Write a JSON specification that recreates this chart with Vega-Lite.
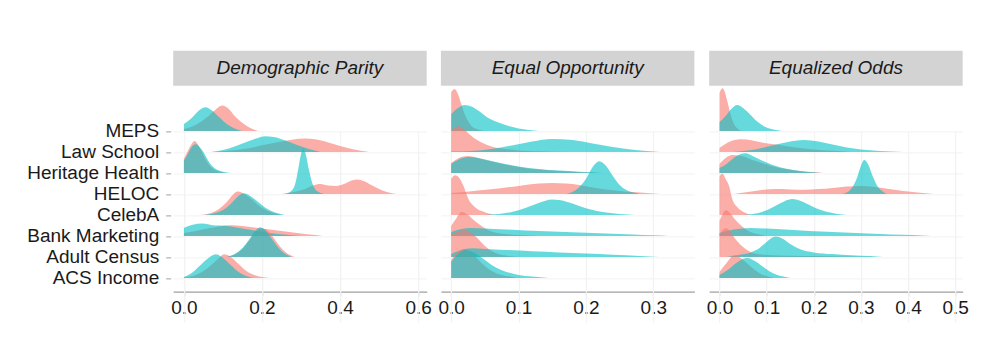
{
 "$schema": "https://vega.github.io/schema/vega-lite/v6.json",
 "padding": {"top": 50.7, "left": 25.7, "right": 5, "bottom": 5},
 "background": "white",
 "config": {"font": "Liberation Sans", "view": {"stroke": null}},
 "datasets": {
  "names": [{"d":"MEPS"},{"d":"Law School"},{"d":"Heritage Health"},{"d":"HELOC"},{"d":"CelebA"},{"d":"Bank Marketing"},{"d":"Adult Census"},{"d":"ACS Income"}],
  "dp": [
   {"d":"MEPS","g":"a","x":0,"h":2},{"d":"MEPS","g":"a","x":0.03,"h":6},{"d":"MEPS","g":"a","x":0.06,"h":14},{"d":"MEPS","g":"a","x":0.08,"h":21},{"d":"MEPS","g":"a","x":0.098,"h":25.3},{"d":"MEPS","g":"a","x":0.115,"h":22},{"d":"MEPS","g":"a","x":0.13,"h":15},{"d":"MEPS","g":"a","x":0.15,"h":8},{"d":"MEPS","g":"a","x":0.17,"h":3},{"d":"MEPS","g":"a","x":0.19,"h":0},
   {"d":"MEPS","g":"b","x":0,"h":7},{"d":"MEPS","g":"b","x":0.02,"h":13},{"d":"MEPS","g":"b","x":0.04,"h":21},{"d":"MEPS","g":"b","x":0.056,"h":23.7},{"d":"MEPS","g":"b","x":0.07,"h":21},{"d":"MEPS","g":"b","x":0.09,"h":14},{"d":"MEPS","g":"b","x":0.11,"h":7},{"d":"MEPS","g":"b","x":0.13,"h":2.5},{"d":"MEPS","g":"b","x":0.15,"h":0},
   {"d":"Law School","g":"a","x":0.07,"h":0},{"d":"Law School","g":"a","x":0.12,"h":1.5},{"d":"Law School","g":"a","x":0.17,"h":4},{"d":"Law School","g":"a","x":0.21,"h":7.5},{"d":"Law School","g":"a","x":0.25,"h":10.5},{"d":"Law School","g":"a","x":0.28,"h":12.5},{"d":"Law School","g":"a","x":0.308,"h":13.3},{"d":"Law School","g":"a","x":0.34,"h":12.3},{"d":"Law School","g":"a","x":0.37,"h":9.5},{"d":"Law School","g":"a","x":0.4,"h":6},{"d":"Law School","g":"a","x":0.43,"h":3},{"d":"Law School","g":"a","x":0.475,"h":0},
   {"d":"Law School","g":"b","x":0.07,"h":0},{"d":"Law School","g":"b","x":0.1,"h":2},{"d":"Law School","g":"b","x":0.13,"h":5.5},{"d":"Law School","g":"b","x":0.16,"h":10},{"d":"Law School","g":"b","x":0.19,"h":14},{"d":"Law School","g":"b","x":0.208,"h":15.6},{"d":"Law School","g":"b","x":0.23,"h":15},{"d":"Law School","g":"b","x":0.26,"h":11.5},{"d":"Law School","g":"b","x":0.29,"h":7},{"d":"Law School","g":"b","x":0.32,"h":3},{"d":"Law School","g":"b","x":0.35,"h":0},
   {"d":"Heritage Health","g":"a","x":0,"h":14},{"d":"Heritage Health","g":"a","x":0.01,"h":22},{"d":"Heritage Health","g":"a","x":0.02,"h":29},{"d":"Heritage Health","g":"a","x":0.027,"h":31.9},{"d":"Heritage Health","g":"a","x":0.035,"h":29},{"d":"Heritage Health","g":"a","x":0.045,"h":22},{"d":"Heritage Health","g":"a","x":0.055,"h":14},{"d":"Heritage Health","g":"a","x":0.065,"h":8},{"d":"Heritage Health","g":"a","x":0.075,"h":4},{"d":"Heritage Health","g":"a","x":0.09,"h":1.5},{"d":"Heritage Health","g":"a","x":0.11,"h":0},
   {"d":"Heritage Health","g":"b","x":0,"h":12},{"d":"Heritage Health","g":"b","x":0.01,"h":19},{"d":"Heritage Health","g":"b","x":0.02,"h":26},{"d":"Heritage Health","g":"b","x":0.03,"h":28.6},{"d":"Heritage Health","g":"b","x":0.04,"h":26},{"d":"Heritage Health","g":"b","x":0.05,"h":21},{"d":"Heritage Health","g":"b","x":0.06,"h":14},{"d":"Heritage Health","g":"b","x":0.07,"h":8},{"d":"Heritage Health","g":"b","x":0.08,"h":4.5},{"d":"Heritage Health","g":"b","x":0.09,"h":2.5},{"d":"Heritage Health","g":"b","x":0.1,"h":1.2},{"d":"Heritage Health","g":"b","x":0.12,"h":0},
   {"d":"HELOC","g":"a","x":0.25,"h":0},{"d":"HELOC","g":"a","x":0.28,"h":2},{"d":"HELOC","g":"a","x":0.31,"h":5},{"d":"HELOC","g":"a","x":0.33,"h":8.5},{"d":"HELOC","g":"a","x":0.35,"h":10},{"d":"HELOC","g":"a","x":0.37,"h":8.5},{"d":"HELOC","g":"a","x":0.39,"h":8},{"d":"HELOC","g":"a","x":0.41,"h":10},{"d":"HELOC","g":"a","x":0.43,"h":13.5},{"d":"HELOC","g":"a","x":0.445,"h":14.3},{"d":"HELOC","g":"a","x":0.46,"h":13},{"d":"HELOC","g":"a","x":0.48,"h":9},{"d":"HELOC","g":"a","x":0.5,"h":5},{"d":"HELOC","g":"a","x":0.52,"h":2},{"d":"HELOC","g":"a","x":0.545,"h":0},
   {"d":"HELOC","g":"b","x":0.26,"h":0},{"d":"HELOC","g":"b","x":0.275,"h":3},{"d":"HELOC","g":"b","x":0.285,"h":10},{"d":"HELOC","g":"b","x":0.293,"h":25},{"d":"HELOC","g":"b","x":0.3,"h":40},{"d":"HELOC","g":"b","x":0.305,"h":45},{"d":"HELOC","g":"b","x":0.312,"h":40},{"d":"HELOC","g":"b","x":0.32,"h":25},{"d":"HELOC","g":"b","x":0.328,"h":12},{"d":"HELOC","g":"b","x":0.336,"h":5},{"d":"HELOC","g":"b","x":0.345,"h":2},{"d":"HELOC","g":"b","x":0.36,"h":0},
   {"d":"CelebA","g":"a","x":0.04,"h":0},{"d":"CelebA","g":"a","x":0.07,"h":2},{"d":"CelebA","g":"a","x":0.09,"h":6},{"d":"CelebA","g":"a","x":0.11,"h":13},{"d":"CelebA","g":"a","x":0.125,"h":20},{"d":"CelebA","g":"a","x":0.138,"h":23.3},{"d":"CelebA","g":"a","x":0.15,"h":22},{"d":"CelebA","g":"a","x":0.17,"h":17},{"d":"CelebA","g":"a","x":0.19,"h":10},{"d":"CelebA","g":"a","x":0.21,"h":5},{"d":"CelebA","g":"a","x":0.23,"h":2},{"d":"CelebA","g":"a","x":0.25,"h":0},
   {"d":"CelebA","g":"b","x":0.05,"h":0},{"d":"CelebA","g":"b","x":0.08,"h":2},{"d":"CelebA","g":"b","x":0.1,"h":5},{"d":"CelebA","g":"b","x":0.12,"h":11},{"d":"CelebA","g":"b","x":0.14,"h":19},{"d":"CelebA","g":"b","x":0.153,"h":21.6},{"d":"CelebA","g":"b","x":0.17,"h":19},{"d":"CelebA","g":"b","x":0.19,"h":13},{"d":"CelebA","g":"b","x":0.21,"h":7},{"d":"CelebA","g":"b","x":0.23,"h":3},{"d":"CelebA","g":"b","x":0.26,"h":0},
   {"d":"Bank Marketing","g":"a","x":0,"h":3},{"d":"Bank Marketing","g":"a","x":0.03,"h":5},{"d":"Bank Marketing","g":"a","x":0.06,"h":7.5},{"d":"Bank Marketing","g":"a","x":0.09,"h":9.5},{"d":"Bank Marketing","g":"a","x":0.12,"h":10.6},{"d":"Bank Marketing","g":"a","x":0.15,"h":10},{"d":"Bank Marketing","g":"a","x":0.18,"h":8.5},{"d":"Bank Marketing","g":"a","x":0.21,"h":7},{"d":"Bank Marketing","g":"a","x":0.24,"h":5.5},{"d":"Bank Marketing","g":"a","x":0.27,"h":4},{"d":"Bank Marketing","g":"a","x":0.3,"h":2.5},{"d":"Bank Marketing","g":"a","x":0.33,"h":1.2},{"d":"Bank Marketing","g":"a","x":0.355,"h":0},
   {"d":"Bank Marketing","g":"b","x":0,"h":8},{"d":"Bank Marketing","g":"b","x":0.02,"h":11},{"d":"Bank Marketing","g":"b","x":0.048,"h":12.3},{"d":"Bank Marketing","g":"b","x":0.07,"h":11},{"d":"Bank Marketing","g":"b","x":0.09,"h":10.3},{"d":"Bank Marketing","g":"b","x":0.12,"h":9.5},{"d":"Bank Marketing","g":"b","x":0.15,"h":7.5},{"d":"Bank Marketing","g":"b","x":0.18,"h":5.5},{"d":"Bank Marketing","g":"b","x":0.21,"h":3.5},{"d":"Bank Marketing","g":"b","x":0.24,"h":2},{"d":"Bank Marketing","g":"b","x":0.27,"h":1},{"d":"Bank Marketing","g":"b","x":0.3,"h":0},
   {"d":"Adult Census","g":"a","x":0.11,"h":0},{"d":"Adult Census","g":"a","x":0.13,"h":2.5},{"d":"Adult Census","g":"a","x":0.15,"h":8},{"d":"Adult Census","g":"a","x":0.17,"h":18},{"d":"Adult Census","g":"a","x":0.185,"h":25},{"d":"Adult Census","g":"a","x":0.2,"h":28.5},{"d":"Adult Census","g":"a","x":0.215,"h":26},{"d":"Adult Census","g":"a","x":0.23,"h":19},{"d":"Adult Census","g":"a","x":0.245,"h":11},{"d":"Adult Census","g":"a","x":0.26,"h":5},{"d":"Adult Census","g":"a","x":0.272,"h":2},{"d":"Adult Census","g":"a","x":0.283,"h":0},
   {"d":"Adult Census","g":"b","x":0.11,"h":0},{"d":"Adult Census","g":"b","x":0.13,"h":3},{"d":"Adult Census","g":"b","x":0.15,"h":9},{"d":"Adult Census","g":"b","x":0.17,"h":19},{"d":"Adult Census","g":"b","x":0.185,"h":27},{"d":"Adult Census","g":"b","x":0.195,"h":29.7},{"d":"Adult Census","g":"b","x":0.205,"h":28},{"d":"Adult Census","g":"b","x":0.22,"h":21},{"d":"Adult Census","g":"b","x":0.235,"h":13},{"d":"Adult Census","g":"b","x":0.25,"h":6},{"d":"Adult Census","g":"b","x":0.265,"h":2},{"d":"Adult Census","g":"b","x":0.275,"h":0},
   {"d":"ACS Income","g":"a","x":0,"h":0.5},{"d":"ACS Income","g":"a","x":0.03,"h":3},{"d":"ACS Income","g":"a","x":0.05,"h":7},{"d":"ACS Income","g":"a","x":0.07,"h":13},{"d":"ACS Income","g":"a","x":0.09,"h":20},{"d":"ACS Income","g":"a","x":0.103,"h":23.6},{"d":"ACS Income","g":"a","x":0.12,"h":21},{"d":"ACS Income","g":"a","x":0.14,"h":14},{"d":"ACS Income","g":"a","x":0.16,"h":7},{"d":"ACS Income","g":"a","x":0.18,"h":3},{"d":"ACS Income","g":"a","x":0.2,"h":1},{"d":"ACS Income","g":"a","x":0.218,"h":0},
   {"d":"ACS Income","g":"b","x":0,"h":1},{"d":"ACS Income","g":"b","x":0.02,"h":5},{"d":"ACS Income","g":"b","x":0.04,"h":12},{"d":"ACS Income","g":"b","x":0.06,"h":19},{"d":"ACS Income","g":"b","x":0.082,"h":23.6},{"d":"ACS Income","g":"b","x":0.1,"h":20},{"d":"ACS Income","g":"b","x":0.12,"h":13},{"d":"ACS Income","g":"b","x":0.14,"h":6},{"d":"ACS Income","g":"b","x":0.16,"h":2},{"d":"ACS Income","g":"b","x":0.18,"h":0}
  ],
  "eop": [
   {"d":"MEPS","g":"a","x":0,"h":39},{"d":"MEPS","g":"a","x":0.005,"h":42},{"d":"MEPS","g":"a","x":0.01,"h":37},{"d":"MEPS","g":"a","x":0.015,"h":27},{"d":"MEPS","g":"a","x":0.02,"h":17},{"d":"MEPS","g":"a","x":0.025,"h":10},{"d":"MEPS","g":"a","x":0.03,"h":5},{"d":"MEPS","g":"a","x":0.038,"h":2},{"d":"MEPS","g":"a","x":0.05,"h":0},
   {"d":"MEPS","g":"b","x":0,"h":16.7},{"d":"MEPS","g":"b","x":0.01,"h":23},{"d":"MEPS","g":"b","x":0.02,"h":26},{"d":"MEPS","g":"b","x":0.03,"h":24.5},{"d":"MEPS","g":"b","x":0.04,"h":20.5},{"d":"MEPS","g":"b","x":0.055,"h":13},{"d":"MEPS","g":"b","x":0.07,"h":8.5},{"d":"MEPS","g":"b","x":0.085,"h":5},{"d":"MEPS","g":"b","x":0.1,"h":2.5},{"d":"MEPS","g":"b","x":0.115,"h":1},{"d":"MEPS","g":"b","x":0.13,"h":0},
   {"d":"Law School","g":"a","x":0,"h":21},{"d":"Law School","g":"a","x":0.01,"h":25.6},{"d":"Law School","g":"a","x":0.02,"h":22},{"d":"Law School","g":"a","x":0.03,"h":16},{"d":"Law School","g":"a","x":0.045,"h":9.5},{"d":"Law School","g":"a","x":0.06,"h":5.5},{"d":"Law School","g":"a","x":0.08,"h":3},{"d":"Law School","g":"a","x":0.1,"h":1.5},{"d":"Law School","g":"a","x":0.13,"h":0.6},{"d":"Law School","g":"a","x":0.18,"h":0},
   {"d":"Law School","g":"b","x":0,"h":0.3},{"d":"Law School","g":"b","x":0.03,"h":1},{"d":"Law School","g":"b","x":0.06,"h":3},{"d":"Law School","g":"b","x":0.09,"h":6.5},{"d":"Law School","g":"b","x":0.12,"h":10.5},{"d":"Law School","g":"b","x":0.15,"h":13},{"d":"Law School","g":"b","x":0.18,"h":12},{"d":"Law School","g":"b","x":0.21,"h":8.5},{"d":"Law School","g":"b","x":0.24,"h":5},{"d":"Law School","g":"b","x":0.27,"h":2.2},{"d":"Law School","g":"b","x":0.3,"h":0.5},{"d":"Law School","g":"b","x":0.31,"h":0},
   {"d":"Heritage Health","g":"a","x":0,"h":10},{"d":"Heritage Health","g":"a","x":0.01,"h":14.5},{"d":"Heritage Health","g":"a","x":0.025,"h":16.8},{"d":"Heritage Health","g":"a","x":0.04,"h":15},{"d":"Heritage Health","g":"a","x":0.06,"h":11.5},{"d":"Heritage Health","g":"a","x":0.08,"h":8.5},{"d":"Heritage Health","g":"a","x":0.1,"h":6},{"d":"Heritage Health","g":"a","x":0.13,"h":3.5},{"d":"Heritage Health","g":"a","x":0.16,"h":2},{"d":"Heritage Health","g":"a","x":0.19,"h":1},{"d":"Heritage Health","g":"a","x":0.22,"h":0},
   {"d":"Heritage Health","g":"b","x":0,"h":9},{"d":"Heritage Health","g":"b","x":0.01,"h":13},{"d":"Heritage Health","g":"b","x":0.025,"h":16},{"d":"Heritage Health","g":"b","x":0.04,"h":15},{"d":"Heritage Health","g":"b","x":0.06,"h":12},{"d":"Heritage Health","g":"b","x":0.08,"h":9},{"d":"Heritage Health","g":"b","x":0.1,"h":6.5},{"d":"Heritage Health","g":"b","x":0.13,"h":4},{"d":"Heritage Health","g":"b","x":0.16,"h":2.3},{"d":"Heritage Health","g":"b","x":0.19,"h":1.2},{"d":"Heritage Health","g":"b","x":0.225,"h":0},
   {"d":"HELOC","g":"a","x":0,"h":1},{"d":"HELOC","g":"a","x":0.02,"h":2},{"d":"HELOC","g":"a","x":0.04,"h":3.5},{"d":"HELOC","g":"a","x":0.07,"h":5.5},{"d":"HELOC","g":"a","x":0.1,"h":8},{"d":"HELOC","g":"a","x":0.13,"h":10.3},{"d":"HELOC","g":"a","x":0.15,"h":11},{"d":"HELOC","g":"a","x":0.17,"h":10.5},{"d":"HELOC","g":"a","x":0.19,"h":9},{"d":"HELOC","g":"a","x":0.21,"h":6.5},{"d":"HELOC","g":"a","x":0.23,"h":4.5},{"d":"HELOC","g":"a","x":0.25,"h":3},{"d":"HELOC","g":"a","x":0.27,"h":1.8},{"d":"HELOC","g":"a","x":0.29,"h":0.8},{"d":"HELOC","g":"a","x":0.31,"h":0},
   {"d":"HELOC","g":"b","x":0.17,"h":0},{"d":"HELOC","g":"b","x":0.185,"h":4},{"d":"HELOC","g":"b","x":0.2,"h":15},{"d":"HELOC","g":"b","x":0.21,"h":27},{"d":"HELOC","g":"b","x":0.22,"h":32.7},{"d":"HELOC","g":"b","x":0.23,"h":28},{"d":"HELOC","g":"b","x":0.24,"h":18},{"d":"HELOC","g":"b","x":0.25,"h":9},{"d":"HELOC","g":"b","x":0.26,"h":4},{"d":"HELOC","g":"b","x":0.27,"h":1.5},{"d":"HELOC","g":"b","x":0.28,"h":0},
   {"d":"CelebA","g":"a","x":0,"h":36},{"d":"CelebA","g":"a","x":0.006,"h":39.6},{"d":"CelebA","g":"a","x":0.012,"h":37},{"d":"CelebA","g":"a","x":0.018,"h":29.3},{"d":"CelebA","g":"a","x":0.0255,"h":16},{"d":"CelebA","g":"a","x":0.0355,"h":7.7},{"d":"CelebA","g":"a","x":0.05,"h":2.7},{"d":"CelebA","g":"a","x":0.065,"h":0},
   {"d":"CelebA","g":"b","x":0.05,"h":0},{"d":"CelebA","g":"b","x":0.07,"h":1},{"d":"CelebA","g":"b","x":0.09,"h":3},{"d":"CelebA","g":"b","x":0.11,"h":7},{"d":"CelebA","g":"b","x":0.13,"h":12},{"d":"CelebA","g":"b","x":0.15,"h":15.3},{"d":"CelebA","g":"b","x":0.17,"h":13.5},{"d":"CelebA","g":"b","x":0.19,"h":9},{"d":"CelebA","g":"b","x":0.21,"h":5},{"d":"CelebA","g":"b","x":0.23,"h":2.5},{"d":"CelebA","g":"b","x":0.25,"h":1},{"d":"CelebA","g":"b","x":0.273,"h":0},
   {"d":"Bank Marketing","g":"a","x":0,"h":10},{"d":"Bank Marketing","g":"a","x":0.008,"h":18},{"d":"Bank Marketing","g":"a","x":0.0155,"h":24},{"d":"Bank Marketing","g":"a","x":0.025,"h":21},{"d":"Bank Marketing","g":"a","x":0.035,"h":15},{"d":"Bank Marketing","g":"a","x":0.045,"h":10},{"d":"Bank Marketing","g":"a","x":0.055,"h":6},{"d":"Bank Marketing","g":"a","x":0.065,"h":3.5},{"d":"Bank Marketing","g":"a","x":0.08,"h":2},{"d":"Bank Marketing","g":"a","x":0.1,"h":1},{"d":"Bank Marketing","g":"a","x":0.13,"h":0},
   {"d":"Bank Marketing","g":"b","x":0,"h":4},{"d":"Bank Marketing","g":"b","x":0.015,"h":7},{"d":"Bank Marketing","g":"b","x":0.03,"h":8},{"d":"Bank Marketing","g":"b","x":0.05,"h":7.5},{"d":"Bank Marketing","g":"b","x":0.08,"h":6.5},{"d":"Bank Marketing","g":"b","x":0.11,"h":5.5},{"d":"Bank Marketing","g":"b","x":0.15,"h":4.5},{"d":"Bank Marketing","g":"b","x":0.19,"h":3.5},{"d":"Bank Marketing","g":"b","x":0.23,"h":2.5},{"d":"Bank Marketing","g":"b","x":0.27,"h":1.5},{"d":"Bank Marketing","g":"b","x":0.3,"h":0.7},{"d":"Bank Marketing","g":"b","x":0.323,"h":0},
   {"d":"Adult Census","g":"a","x":0,"h":22},{"d":"Adult Census","g":"a","x":0.01,"h":25.5},{"d":"Adult Census","g":"a","x":0.02,"h":27},{"d":"Adult Census","g":"a","x":0.03,"h":24},{"d":"Adult Census","g":"a","x":0.04,"h":18},{"d":"Adult Census","g":"a","x":0.05,"h":11},{"d":"Adult Census","g":"a","x":0.06,"h":6},{"d":"Adult Census","g":"a","x":0.07,"h":3},{"d":"Adult Census","g":"a","x":0.085,"h":1},{"d":"Adult Census","g":"a","x":0.1,"h":0},
   {"d":"Adult Census","g":"b","x":0,"h":3},{"d":"Adult Census","g":"b","x":0.015,"h":7},{"d":"Adult Census","g":"b","x":0.03,"h":8.7},{"d":"Adult Census","g":"b","x":0.05,"h":8},{"d":"Adult Census","g":"b","x":0.08,"h":7},{"d":"Adult Census","g":"b","x":0.12,"h":5.7},{"d":"Adult Census","g":"b","x":0.16,"h":4.5},{"d":"Adult Census","g":"b","x":0.2,"h":3.3},{"d":"Adult Census","g":"b","x":0.24,"h":2.2},{"d":"Adult Census","g":"b","x":0.28,"h":1},{"d":"Adult Census","g":"b","x":0.308,"h":0},
   {"d":"ACS Income","g":"a","x":0,"h":18},{"d":"ACS Income","g":"a","x":0.01,"h":26},{"d":"ACS Income","g":"a","x":0.02,"h":29},{"d":"ACS Income","g":"a","x":0.03,"h":25},{"d":"ACS Income","g":"a","x":0.045,"h":15},{"d":"ACS Income","g":"a","x":0.06,"h":7},{"d":"ACS Income","g":"a","x":0.075,"h":3},{"d":"ACS Income","g":"a","x":0.09,"h":1},{"d":"ACS Income","g":"a","x":0.1,"h":0},
   {"d":"ACS Income","g":"b","x":0,"h":16},{"d":"ACS Income","g":"b","x":0.01,"h":24},{"d":"ACS Income","g":"b","x":0.022,"h":28},{"d":"ACS Income","g":"b","x":0.035,"h":25},{"d":"ACS Income","g":"b","x":0.05,"h":18},{"d":"ACS Income","g":"b","x":0.065,"h":11},{"d":"ACS Income","g":"b","x":0.08,"h":6.5},{"d":"ACS Income","g":"b","x":0.1,"h":3},{"d":"ACS Income","g":"b","x":0.12,"h":1.3},{"d":"ACS Income","g":"b","x":0.145,"h":0}
  ],
  "eo": [
   {"d":"MEPS","g":"a","x":0,"h":38},{"d":"MEPS","g":"a","x":0.006,"h":42.7},{"d":"MEPS","g":"a","x":0.012,"h":38},{"d":"MEPS","g":"a","x":0.017,"h":29},{"d":"MEPS","g":"a","x":0.024,"h":16},{"d":"MEPS","g":"a","x":0.031,"h":6.7},{"d":"MEPS","g":"a","x":0.038,"h":2.5},{"d":"MEPS","g":"a","x":0.047,"h":0},
   {"d":"MEPS","g":"b","x":0,"h":9},{"d":"MEPS","g":"b","x":0.013,"h":15},{"d":"MEPS","g":"b","x":0.025,"h":22},{"d":"MEPS","g":"b","x":0.038,"h":26},{"d":"MEPS","g":"b","x":0.05,"h":23},{"d":"MEPS","g":"b","x":0.065,"h":16.5},{"d":"MEPS","g":"b","x":0.08,"h":9.3},{"d":"MEPS","g":"b","x":0.095,"h":4.5},{"d":"MEPS","g":"b","x":0.11,"h":2},{"d":"MEPS","g":"b","x":0.136,"h":0},
   {"d":"Law School","g":"a","x":0,"h":4},{"d":"Law School","g":"a","x":0.02,"h":10},{"d":"Law School","g":"a","x":0.045,"h":12.7},{"d":"Law School","g":"a","x":0.07,"h":11.5},{"d":"Law School","g":"a","x":0.09,"h":9.5},{"d":"Law School","g":"a","x":0.115,"h":7.7},{"d":"Law School","g":"a","x":0.14,"h":6},{"d":"Law School","g":"a","x":0.17,"h":4},{"d":"Law School","g":"a","x":0.2,"h":2.5},{"d":"Law School","g":"a","x":0.24,"h":1.2},{"d":"Law School","g":"a","x":0.28,"h":0},
   {"d":"Law School","g":"b","x":0.03,"h":0},{"d":"Law School","g":"b","x":0.06,"h":1.5},{"d":"Law School","g":"b","x":0.09,"h":4},{"d":"Law School","g":"b","x":0.12,"h":7.5},{"d":"Law School","g":"b","x":0.15,"h":10.5},{"d":"Law School","g":"b","x":0.179,"h":12},{"d":"Law School","g":"b","x":0.21,"h":10.5},{"d":"Law School","g":"b","x":0.24,"h":7.5},{"d":"Law School","g":"b","x":0.27,"h":4.5},{"d":"Law School","g":"b","x":0.3,"h":2.5},{"d":"Law School","g":"b","x":0.34,"h":1},{"d":"Law School","g":"b","x":0.39,"h":0},
   {"d":"Heritage Health","g":"a","x":0,"h":9},{"d":"Heritage Health","g":"a","x":0.013,"h":15},{"d":"Heritage Health","g":"a","x":0.027,"h":18},{"d":"Heritage Health","g":"a","x":0.04,"h":17.5},{"d":"Heritage Health","g":"a","x":0.055,"h":16},{"d":"Heritage Health","g":"a","x":0.07,"h":13},{"d":"Heritage Health","g":"a","x":0.09,"h":10},{"d":"Heritage Health","g":"a","x":0.11,"h":7},{"d":"Heritage Health","g":"a","x":0.14,"h":4},{"d":"Heritage Health","g":"a","x":0.17,"h":2},{"d":"Heritage Health","g":"a","x":0.2,"h":0.8},{"d":"Heritage Health","g":"a","x":0.22,"h":0},
   {"d":"Heritage Health","g":"b","x":0,"h":5},{"d":"Heritage Health","g":"b","x":0.015,"h":9},{"d":"Heritage Health","g":"b","x":0.03,"h":15},{"d":"Heritage Health","g":"b","x":0.045,"h":19},{"d":"Heritage Health","g":"b","x":0.055,"h":19.7},{"d":"Heritage Health","g":"b","x":0.07,"h":17},{"d":"Heritage Health","g":"b","x":0.09,"h":12.5},{"d":"Heritage Health","g":"b","x":0.11,"h":8.5},{"d":"Heritage Health","g":"b","x":0.13,"h":5.5},{"d":"Heritage Health","g":"b","x":0.16,"h":2.7},{"d":"Heritage Health","g":"b","x":0.19,"h":1},{"d":"Heritage Health","g":"b","x":0.214,"h":0},
   {"d":"HELOC","g":"a","x":0.03,"h":0},{"d":"HELOC","g":"a","x":0.06,"h":2},{"d":"HELOC","g":"a","x":0.09,"h":4},{"d":"HELOC","g":"a","x":0.12,"h":4.8},{"d":"HELOC","g":"a","x":0.15,"h":4.5},{"d":"HELOC","g":"a","x":0.18,"h":4.2},{"d":"HELOC","g":"a","x":0.21,"h":4.8},{"d":"HELOC","g":"a","x":0.24,"h":6},{"d":"HELOC","g":"a","x":0.27,"h":7.5},{"d":"HELOC","g":"a","x":0.3,"h":8},{"d":"HELOC","g":"a","x":0.33,"h":7},{"d":"HELOC","g":"a","x":0.36,"h":5},{"d":"HELOC","g":"a","x":0.39,"h":3},{"d":"HELOC","g":"a","x":0.42,"h":1.5},{"d":"HELOC","g":"a","x":0.455,"h":0},
   {"d":"HELOC","g":"b","x":0.26,"h":0},{"d":"HELOC","g":"b","x":0.275,"h":3},{"d":"HELOC","g":"b","x":0.29,"h":14},{"d":"HELOC","g":"b","x":0.3,"h":28},{"d":"HELOC","g":"b","x":0.307,"h":34},{"d":"HELOC","g":"b","x":0.315,"h":30},{"d":"HELOC","g":"b","x":0.325,"h":18},{"d":"HELOC","g":"b","x":0.335,"h":8},{"d":"HELOC","g":"b","x":0.345,"h":3},{"d":"HELOC","g":"b","x":0.355,"h":0},
   {"d":"CelebA","g":"a","x":0,"h":38},{"d":"CelebA","g":"a","x":0.006,"h":41.3},{"d":"CelebA","g":"a","x":0.013,"h":36},{"d":"CelebA","g":"a","x":0.02,"h":29.3},{"d":"CelebA","g":"a","x":0.027,"h":16},{"d":"CelebA","g":"a","x":0.038,"h":7.7},{"d":"CelebA","g":"a","x":0.052,"h":2.7},{"d":"CelebA","g":"a","x":0.066,"h":0},
   {"d":"CelebA","g":"b","x":0.045,"h":0},{"d":"CelebA","g":"b","x":0.07,"h":1},{"d":"CelebA","g":"b","x":0.09,"h":3},{"d":"CelebA","g":"b","x":0.11,"h":7},{"d":"CelebA","g":"b","x":0.13,"h":12},{"d":"CelebA","g":"b","x":0.154,"h":16},{"d":"CelebA","g":"b","x":0.175,"h":13.5},{"d":"CelebA","g":"b","x":0.195,"h":9},{"d":"CelebA","g":"b","x":0.215,"h":5},{"d":"CelebA","g":"b","x":0.235,"h":2.5},{"d":"CelebA","g":"b","x":0.25,"h":1},{"d":"CelebA","g":"b","x":0.27,"h":0},
   {"d":"Bank Marketing","g":"a","x":0,"h":15},{"d":"Bank Marketing","g":"a","x":0.007,"h":22},{"d":"Bank Marketing","g":"a","x":0.0135,"h":25.6},{"d":"Bank Marketing","g":"a","x":0.022,"h":23},{"d":"Bank Marketing","g":"a","x":0.032,"h":17},{"d":"Bank Marketing","g":"a","x":0.045,"h":10.7},{"d":"Bank Marketing","g":"a","x":0.055,"h":7},{"d":"Bank Marketing","g":"a","x":0.066,"h":4},{"d":"Bank Marketing","g":"a","x":0.08,"h":2},{"d":"Bank Marketing","g":"a","x":0.1,"h":0},
   {"d":"Bank Marketing","g":"b","x":0,"h":3},{"d":"Bank Marketing","g":"b","x":0.03,"h":6.5},{"d":"Bank Marketing","g":"b","x":0.066,"h":8},{"d":"Bank Marketing","g":"b","x":0.1,"h":7.3},{"d":"Bank Marketing","g":"b","x":0.14,"h":6.3},{"d":"Bank Marketing","g":"b","x":0.19,"h":5},{"d":"Bank Marketing","g":"b","x":0.24,"h":4},{"d":"Bank Marketing","g":"b","x":0.29,"h":3},{"d":"Bank Marketing","g":"b","x":0.34,"h":2},{"d":"Bank Marketing","g":"b","x":0.39,"h":1.2},{"d":"Bank Marketing","g":"b","x":0.43,"h":0.5},{"d":"Bank Marketing","g":"b","x":0.45,"h":0},
   {"d":"Adult Census","g":"a","x":0,"h":22},{"d":"Adult Census","g":"a","x":0.007,"h":27},{"d":"Adult Census","g":"a","x":0.0135,"h":28.7},{"d":"Adult Census","g":"a","x":0.022,"h":26},{"d":"Adult Census","g":"a","x":0.032,"h":19},{"d":"Adult Census","g":"a","x":0.045,"h":12},{"d":"Adult Census","g":"a","x":0.06,"h":6.5},{"d":"Adult Census","g":"a","x":0.073,"h":3.7},{"d":"Adult Census","g":"a","x":0.1,"h":2},{"d":"Adult Census","g":"a","x":0.15,"h":1.2},{"d":"Adult Census","g":"a","x":0.2,"h":0.8},{"d":"Adult Census","g":"a","x":0.26,"h":0.4},{"d":"Adult Census","g":"a","x":0.33,"h":0},
   {"d":"Adult Census","g":"b","x":0.015,"h":0},{"d":"Adult Census","g":"b","x":0.04,"h":2},{"d":"Adult Census","g":"b","x":0.066,"h":4.5},{"d":"Adult Census","g":"b","x":0.085,"h":9},{"d":"Adult Census","g":"b","x":0.1,"h":15},{"d":"Adult Census","g":"b","x":0.119,"h":20.3},{"d":"Adult Census","g":"b","x":0.135,"h":18},{"d":"Adult Census","g":"b","x":0.15,"h":13},{"d":"Adult Census","g":"b","x":0.17,"h":8},{"d":"Adult Census","g":"b","x":0.2,"h":4.5},{"d":"Adult Census","g":"b","x":0.24,"h":2.8},{"d":"Adult Census","g":"b","x":0.28,"h":1.6},{"d":"Adult Census","g":"b","x":0.32,"h":0.8},{"d":"Adult Census","g":"b","x":0.346,"h":0},
   {"d":"ACS Income","g":"a","x":0,"h":6},{"d":"ACS Income","g":"a","x":0.015,"h":15},{"d":"ACS Income","g":"a","x":0.031,"h":22.7},{"d":"ACS Income","g":"a","x":0.045,"h":20},{"d":"ACS Income","g":"a","x":0.06,"h":14},{"d":"ACS Income","g":"a","x":0.075,"h":8},{"d":"ACS Income","g":"a","x":0.09,"h":3.5},{"d":"ACS Income","g":"a","x":0.105,"h":1.2},{"d":"ACS Income","g":"a","x":0.115,"h":0},
   {"d":"ACS Income","g":"b","x":0,"h":3},{"d":"ACS Income","g":"b","x":0.02,"h":9},{"d":"ACS Income","g":"b","x":0.04,"h":16.5},{"d":"ACS Income","g":"b","x":0.059,"h":20},{"d":"ACS Income","g":"b","x":0.075,"h":17},{"d":"ACS Income","g":"b","x":0.09,"h":12},{"d":"ACS Income","g":"b","x":0.105,"h":7},{"d":"ACS Income","g":"b","x":0.12,"h":3.5},{"d":"ACS Income","g":"b","x":0.135,"h":1.5},{"d":"ACS Income","g":"b","x":0.15,"h":0}
  ]
 },
 "spacing": -1.5,
 "hconcat": [
  {
   "spacing": 34.7, "bounds": "flush",
   "vconcat": [
    {"width": 1, "height": 35, "data": {"values": []}, "mark": "text"},
    {"width": 1, "height": 168, "data": {"name": "names"},
     "mark": {"type": "rule", "opacity": 0},
     "encoding": {"y": {"field": "d", "type": "nominal", "sort": ["MEPS","Law School","Heritage Health","HELOC","CelebA","Bank Marketing","Adult Census","ACS Income"],
       "scale": {"type": "point", "padding": 0.5},
       "axis": {"title": null, "domain": false, "ticks": true, "tickSize": 5, "tickColor": "#a0a0a0", "labelFontSize": 19, "labelColor": "#1a1a1a", "labelPadding": 7, "labelLimit": 300, "grid": false}}}}
   ]
  },
  {
   "spacing": 5.7,
   "hconcat": [
    {
     "spacing": 34.7, "bounds": "flush",
     "vconcat": [
      {"width": 253.5, "height": 35, "view": {"fill": "#d3d3d3", "stroke": null},
       "data": {"values": [{"t": "Demographic Parity"}]},
       "mark": {"type": "text", "fontSize": 19, "fontStyle": "italic", "color": "#1a1a1a"},
       "encoding": {"text": {"field": "t", "type": "nominal"}}},
      {"data": {"name": "dp"},
       "facet": {"row": {"field": "d", "type": "nominal", "title": null,
         "sort": ["MEPS","Law School","Heritage Health","HELOC","CelebA","Bank Marketing","Adult Census","ACS Income"],
         "header": {"labels": false}}},
       "spacing": 0, "bounds": "flush",
       "spec": {
        "width": 253.5, "height": 21,
        "mark": {"type": "area", "interpolate": "monotone", "fillOpacity": 0.6, "strokeWidth": 0},
        "encoding": {
         "x": {"field": "x", "type": "quantitative", "scale": {"domain": [-0.0274, 0.622], "nice": false, "zero": false},
          "axis": {"values": [0, 0.2, 0.4, 0.6], "format": ".1f", "title": null, "grid": true, "gridColor": "#f2f2f2", "domainColor": "#a0a0a0", "domainWidth": 1.2, "tickColor": "#a0a0a0", "tickSize": 4, "labelFontSize": 19, "labelColor": "#1a1a1a", "labelPadding": 3, "offset": 3.3}},
         "y": {"field": "h", "type": "quantitative", "stack": null, "scale": {"domain": [0, 45], "range": [10.5, -34.5]},
          "axis": {"values": [0], "title": null, "labels": false, "domain": false, "ticks": false, "grid": true, "gridColor": "#f2f2f2"}},
         "color": {"field": "g", "type": "nominal", "scale": {"domain": ["a", "b"], "range": ["#F8766D", "#00BFC4"]}, "legend": null}
        }
       }
      }
     ]
    },
    {
     "spacing": 11.3,
     "hconcat": [
      {
       "spacing": 34.7, "bounds": "flush",
       "vconcat": [
        {"width": 253.5, "height": 35, "view": {"fill": "#d3d3d3", "stroke": null},
         "data": {"values": [{"t": "Equal Opportunity"}]},
         "mark": {"type": "text", "fontSize": 19, "fontStyle": "italic", "color": "#1a1a1a"},
         "encoding": {"text": {"field": "t", "type": "nominal"}}},
        {"data": {"name": "eop"},
         "facet": {"row": {"field": "d", "type": "nominal", "title": null,
           "sort": ["MEPS","Law School","Heritage Health","HELOC","CelebA","Bank Marketing","Adult Census","ACS Income"],
           "header": {"labels": false}}},
         "spacing": 0, "bounds": "flush",
         "spec": {
          "width": 253.5, "height": 21,
          "mark": {"type": "area", "interpolate": "monotone", "fillOpacity": 0.6, "strokeWidth": 0},
          "encoding": {
           "x": {"field": "x", "type": "quantitative", "scale": {"domain": [-0.0153, 0.361], "nice": false, "zero": false},
            "axis": {"values": [0, 0.1, 0.2, 0.3], "format": ".1f", "title": null, "grid": true, "gridColor": "#f2f2f2", "domainColor": "#a0a0a0", "domainWidth": 1.2, "tickColor": "#a0a0a0", "tickSize": 4, "labelFontSize": 19, "labelColor": "#1a1a1a", "labelPadding": 3, "offset": 3.3}},
           "y": {"field": "h", "type": "quantitative", "stack": null, "scale": {"domain": [0, 45], "range": [10.5, -34.5]},
            "axis": {"values": [0], "title": null, "labels": false, "domain": false, "ticks": false, "grid": true, "gridColor": "#f2f2f2"}},
           "color": {"field": "g", "type": "nominal", "scale": {"domain": ["a", "b"], "range": ["#F8766D", "#00BFC4"]}, "legend": null}
          }
         }
        }
       ]
      },
      {
       "spacing": 34.7, "bounds": "flush",
       "vconcat": [
        {"width": 253.5, "height": 35, "view": {"fill": "#d3d3d3", "stroke": null},
         "data": {"values": [{"t": "Equalized Odds"}]},
         "mark": {"type": "text", "fontSize": 19, "fontStyle": "italic", "color": "#1a1a1a"},
         "encoding": {"text": {"field": "t", "type": "nominal"}}},
        {"data": {"name": "eo"},
         "facet": {"row": {"field": "d", "type": "nominal", "title": null,
           "sort": ["MEPS","Law School","Heritage Health","HELOC","CelebA","Bank Marketing","Adult Census","ACS Income"],
           "header": {"labels": false}}},
         "spacing": 0, "bounds": "flush",
         "spec": {
          "width": 253.5, "height": 21,
          "mark": {"type": "area", "interpolate": "monotone", "fillOpacity": 0.6, "strokeWidth": 0},
          "encoding": {
           "x": {"field": "x", "type": "quantitative", "scale": {"domain": [-0.0219, 0.516], "nice": false, "zero": false},
            "axis": {"values": [0, 0.1, 0.2, 0.3, 0.4, 0.5], "format": ".1f", "title": null, "grid": true, "gridColor": "#f2f2f2", "domainColor": "#a0a0a0", "domainWidth": 1.2, "tickColor": "#a0a0a0", "tickSize": 4, "labelFontSize": 19, "labelColor": "#1a1a1a", "labelPadding": 3, "offset": 3.3}},
           "y": {"field": "h", "type": "quantitative", "stack": null, "scale": {"domain": [0, 45], "range": [10.5, -34.5]},
            "axis": {"values": [0], "title": null, "labels": false, "domain": false, "ticks": false, "grid": true, "gridColor": "#f2f2f2"}},
           "color": {"field": "g", "type": "nominal", "scale": {"domain": ["a", "b"], "range": ["#F8766D", "#00BFC4"]}, "legend": null}
          }
         }
        }
       ]
      }
     ]
    }
   ]
  }
 ]
}
